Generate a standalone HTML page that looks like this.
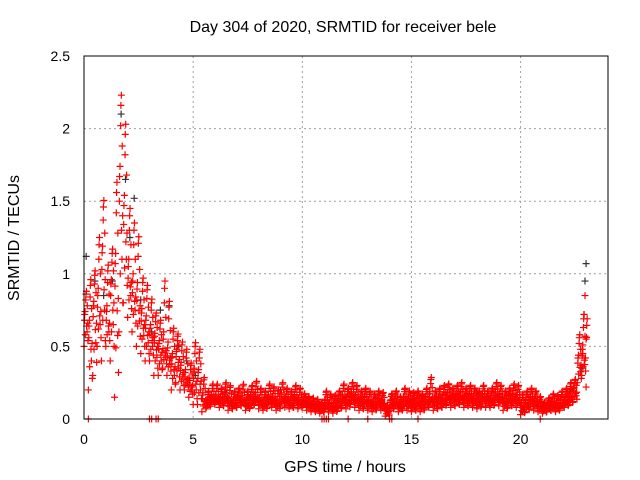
<!DOCTYPE html>
<html><head><meta charset="utf-8"><style>
body{margin:0;background:#fff;}
svg{display:block;font-family:"Liberation Sans",sans-serif;}
</style></head><body>
<svg id="chart" width="640" height="480">
<text x="343" y="32" font-size="16" text-anchor="middle">Day 304 of 2020, SRMTID for receiver bele</text>
<text x="345" y="472" font-size="16" text-anchor="middle">GPS time / hours</text>
<text transform="translate(19,238) rotate(-90)" font-size="16" text-anchor="middle">SRMTID / TECUs</text>
<g id="grid"></g><g id="ticks"></g><g id="marks"></g>
<rect x="84" y="56" width="524" height="363" fill="none" stroke="#000" stroke-width="1"/>
</svg>
<script>
const times=[0,0.2,0.4,0.6,0.8,1.0,1.2,1.4,1.6,1.8,2.0,2.2,2.4,2.6,2.8,3.0,3.2,3.4,3.6,3.8,4.0,4.2,4.4,4.6,4.8,5.0,5.2,5.4,5.6,5.8,6.0,6.2,6.4,6.6,6.8,7.0,7.2,7.4,7.6,7.8,8.0,8.2,8.4,8.6,8.8,9.0,9.2,9.4,9.6,9.8,10.0,10.2,10.4,10.6,10.8,11.0,11.2,11.4,11.6,11.8,12.0,12.2,12.4,12.6,12.8,13.0,13.2,13.4,13.6,13.8,14.0,14.2,14.4,14.6,14.8,15.0,15.2,15.4,15.6,15.8,16.0,16.2,16.4,16.6,16.8,17.0,17.2,17.4,17.6,17.8,18.0,18.2,18.4,18.6,18.8,19.0,19.2,19.4,19.6,19.8,20.0,20.2,20.4,20.6,20.8,21.0,21.2,21.4,21.6,21.8,22.0,22.2,22.4,22.6,22.8,23.0];
const hiVals=[0.9,1.0,1.05,1.3,1.55,1.1,1.2,1.7,2.3,2.1,1.5,1.4,1.3,1.0,0.95,0.85,0.75,0.7,1.0,0.85,0.65,0.6,0.55,0.5,0.4,0.55,0.5,0.3,0.2,0.25,0.25,0.22,0.26,0.24,0.2,0.22,0.25,0.2,0.24,0.27,0.22,0.2,0.25,0.23,0.21,0.26,0.22,0.2,0.24,0.22,0.18,0.16,0.15,0.14,0.12,0.2,0.18,0.17,0.2,0.25,0.22,0.26,0.24,0.2,0.22,0.2,0.18,0.2,0.19,0.1,0.18,0.2,0.16,0.22,0.2,0.19,0.2,0.18,0.22,0.3,0.2,0.22,0.24,0.25,0.22,0.24,0.26,0.22,0.24,0.22,0.2,0.24,0.2,0.22,0.26,0.24,0.2,0.22,0.25,0.24,0.18,0.2,0.22,0.2,0.16,0.12,0.15,0.18,0.17,0.2,0.22,0.26,0.28,0.6,0.75,1.05];
const midVals=[0.7,0.6,0.75,0.8,1.1,0.7,0.9,1.0,1.6,1.4,1.0,0.9,0.85,0.7,0.65,0.6,0.55,0.5,0.5,0.45,0.4,0.45,0.35,0.3,0.25,0.3,0.3,0.15,0.12,0.15,0.15,0.14,0.16,0.13,0.12,0.15,0.14,0.12,0.15,0.16,0.13,0.12,0.15,0.14,0.12,0.16,0.14,0.12,0.15,0.13,0.12,0.11,0.1,0.09,0.08,0.12,0.1,0.1,0.13,0.15,0.14,0.17,0.15,0.13,0.14,0.12,0.11,0.13,0.12,0.06,0.12,0.13,0.1,0.14,0.13,0.12,0.13,0.11,0.14,0.16,0.13,0.14,0.15,0.17,0.15,0.16,0.17,0.15,0.16,0.15,0.13,0.16,0.14,0.15,0.17,0.16,0.13,0.15,0.16,0.15,0.1,0.12,0.14,0.13,0.1,0.08,0.1,0.11,0.1,0.12,0.14,0.17,0.2,0.4,0.45,0.6];
const loVals=[0.5,0.2,0.3,0.5,0.4,0.5,0.4,0.15,0.6,0.8,0.7,0.6,0.5,0.45,0.4,0.4,0.3,0.3,0.35,0.3,0.2,0.25,0.2,0.2,0.15,0.1,0.1,0.05,0.08,0.1,0.1,0.08,0.09,0.06,0.07,0.08,0.09,0.06,0.08,0.1,0.07,0.06,0.09,0.08,0.06,0.09,0.08,0.07,0.08,0.07,0.08,0.06,0.05,0.05,0.04,0.05,0.05,0.04,0.06,0.08,0.07,0.1,0.08,0.06,0.07,0.06,0.05,0.07,0.06,0.02,0.06,0.07,0.05,0.07,0.06,0.05,0.06,0.05,0.07,0.08,0.06,0.07,0.08,0.1,0.08,0.09,0.1,0.08,0.09,0.08,0.07,0.09,0.08,0.08,0.1,0.09,0.06,0.08,0.09,0.08,0.03,0.05,0.07,0.06,0.05,0.04,0.05,0.06,0.05,0.07,0.08,0.1,0.12,0.25,0.3,0.22];
const blackTimes=[0.1,0.5,0.9,1.3,1.7,1.9,2.1,2.3,2.6,3.1,3.5,3.9,4.3,4.7,5.1,6.5,9.0,12.0,15.5,18.0,20.1,22.3,22.8,23.0,22.95];
const blackVals=[1.12,0.95,0.85,0.95,2.1,1.65,1.25,1.52,0.82,0.6,0.75,0.78,0.5,0.4,0.3,0.18,0.2,0.15,0.14,0.18,0.05,0.2,0.35,1.07,0.95];
const extraRedTimes=[22.9,22.95,23.0,22.85];
const extraRedVals=[0.72,0.85,0.55,0.45];
const zeroTimes=[0.2,3.0,3.1,3.3,3.4,10.9,11.0,11.1,11.2,12.1,13.0,14.0,14.1,15.3,20.9];
const xTicks=[0,5,10,15,20];
const yTicks=[0,0.5,1,1.5,2,2.5];
const yTickLabels=["0","0.5","1","1.5","2","2.5"];

const X=t=>84+t*21.83, Y=v=>419-v*145.2;
const NS="http://www.w3.org/2000/svg";
function mk(tag,attrs,parent){const e=document.createElementNS(NS,tag);for(const k in attrs)e.setAttribute(k,attrs[k]);parent.appendChild(e);return e;}
const grid=document.getElementById('grid'),ticks=document.getElementById('ticks'),marks=document.getElementById('marks');
xTicks.forEach(t=>{
  const l=mk('line',{x1:X(t),x2:X(t),y1:56,y2:419,stroke:'#a0a0a0','stroke-dasharray':'2,3'},grid);
  
  
  const tx=mk('text',{x:X(t),y:444,'font-size':14,'text-anchor':'middle'},ticks);tx.textContent=t;
  
  
});
yTicks.forEach((v,i)=>{
  const l=mk('line',{x1:84,x2:608,y1:Y(v),y2:Y(v),stroke:'#a0a0a0','stroke-dasharray':'2,3'},grid);
  
  
  const tx=mk('text',{x:70,y:Y(v)+5,'font-size':14,'text-anchor':'end'},ticks);tx.textContent=yTickLabels[i];
  
  
});
function plus(t,v,col){
  const x=X(t),y=Y(v);
  const p=mk('path',{d:`M${x-3.5},${y}h7M${x},${y-3.5}v7`,stroke:col,'stroke-width':1.2,fill:'none'},marks);
  
  
}
blackTimes.forEach((t,i)=>plus(t,blackVals[i],'#333'));
const fracT=[0.0,0.03,0.06,0.09,0.12,0.15,0.18,0.02,0.08,0.14,0.05,0.11,0.17];
const fracV=[0.0,0.55,0.2,0.9,0.35,0.7,0.1,0.45,0.8,0.25,0.6,0.95,0.4];
times.forEach((t,i)=>{
  const lo=loVals[i],md=midVals[i],hi=hiVals[i];
  fracT.forEach((ft,k)=>{
    const f=fracV[k];
    const v=f<0.5? lo+(md-lo)*f*2 : md+(hi-md)*(f-0.5)*2;
    if(t+ft<=23.05) plus(t+ft,v,'#f00');
  });
});
extraRedTimes.forEach((t,i)=>plus(t,extraRedVals[i],'#f00'));
zeroTimes.forEach(t=>plus(t,0,'#f00'));
</script>
</body></html>
